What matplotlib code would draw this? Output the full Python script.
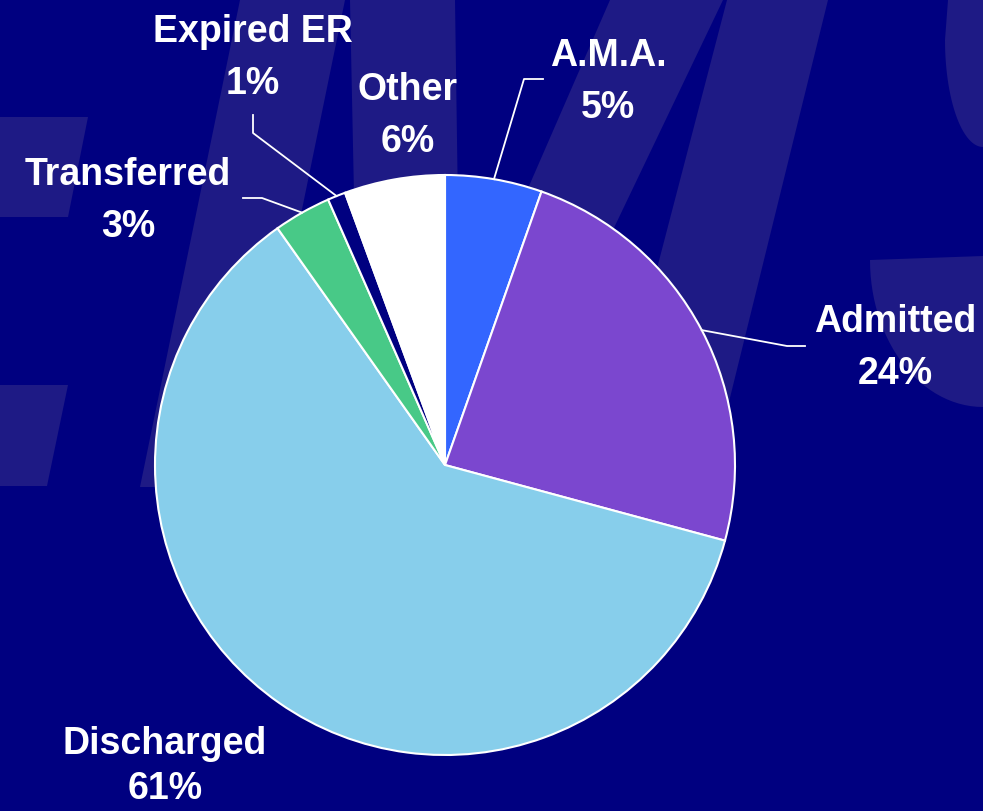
import numpy as np
import matplotlib
matplotlib.use('Agg')
import matplotlib.pyplot as plt
from matplotlib.patches import Polygon

# ----- data -----
categories = ['A.M.A.', 'Admitted', 'Discharged', 'Transferred', 'Expired ER', 'Other']
shares = [5.4, 23.8, 61.0, 3.2, 1.0, 5.6]   # percent
colors = ['#3366FF', '#7B47CF', '#87CEEB', '#48C987', '#000080', '#FFFFFF']

# label layout (pixel coords, y measured from the top)
label_pos = {
    'A.M.A.': (608, 56),
    'Admitted': (895, 322),
    'Discharged': (165, 744),
    'Transferred': (128, 175),
    'Expired ER': (253, 32),
    'Other': (408, 90),
}
# leader line elbows / ends (pixel coords), only for some slices
leaders = {
    'A.M.A.': [(524, 79), (543, 79)],
    'Admitted': [(787, 346), (805, 346)],
    'Transferred': [(262, 198), (243, 198)],
    'Expired ER': [(253, 133), (253, 115)],
}

W, H = 983, 811
bg = '#000080'
wm = '#1E1A85'

fig = plt.figure(figsize=(W / 100, H / 100), dpi=100)
fig.patch.set_facecolor(bg)
ax = fig.add_axes([0, 0, 1, 1])
ax.set_facecolor(bg)

def fy(y):
    # pixel y (from top) -> data y
    return H - y

# background watermark shapes (decoration only)
shapes = [
    [(0, 117), (88, 117), (68, 217), (0, 217)],
    [(0, 385), (68, 385), (47, 486), (0, 486)],
    [(240, 0), (345, 0), (245, 487), (140, 487)],
    [(350, 0), (455, 0), (462, 487), (360, 487)],
    [(610, 0), (723, 0), (490, 487), (398, 487)],
    [(727, 0), (828, 0), (708, 487), (600, 487)],
]
for s in shapes:
    ax.add_patch(Polygon([(x, fy(y)) for x, y in s], closed=True,
                         facecolor=wm, edgecolor='none', zorder=0))
# pieces of the big "S" on the right
t = np.linspace(0, np.pi / 2, 30)
top_s = [(983, 0), (948, 0)] + [(983 - 38 * np.cos(v), 40 + 107 * np.sin(v)) for v in t]
ax.add_patch(Polygon([(x, fy(y)) for x, y in top_s], closed=True,
                     facecolor=wm, edgecolor='none', zorder=0))
bot_s = [(870, 260), (983, 256), (983, 407)] + \
        [(983 - 113 * np.cos(v), 260 + 147 * np.sin(v)) for v in t[::-1]]
ax.add_patch(Polygon([(x, fy(y)) for x, y in bot_s], closed=True,
                     facecolor=wm, edgecolor='none', zorder=0))

cx, cy, r = 445, fy(465), 290
wedges, _ = ax.pie(shares, colors=colors, startangle=90, counterclock=False,
                   center=(cx, cy), radius=r,
                   wedgeprops=dict(edgecolor='white', linewidth=1.5))
for w in wedges:
    w.set_zorder(2)

ax.set_xlim(0, W)
ax.set_ylim(0, H)
ax.set_aspect('equal')
ax.axis('off')

font = dict(family=['Liberation Sans', 'DejaVu Sans'], weight='bold',
            color='white', fontsize=27, ha='center', va='center')

for i, name in enumerate(categories):
    x, y = label_pos[name]
    ax.text(x, fy(y), name, zorder=4, **font)
    ax.text(x, fy(min(y + 52, 789)), '%d%%' % round(shares[i]), zorder=4, **font)
    if name in leaders:
        w = wedges[i]
        mid = np.radians((w.theta1 + w.theta2) / 2)
        pts = [(cx + r * np.cos(mid), cy + r * np.sin(mid))]
        pts += [(px, fy(py)) for px, py in leaders[name]]
        xs, ys = zip(*pts)
        ax.plot(xs, ys, color='white', lw=1.3, zorder=3)

fig.savefig('out.png', dpi=100, facecolor=bg)
